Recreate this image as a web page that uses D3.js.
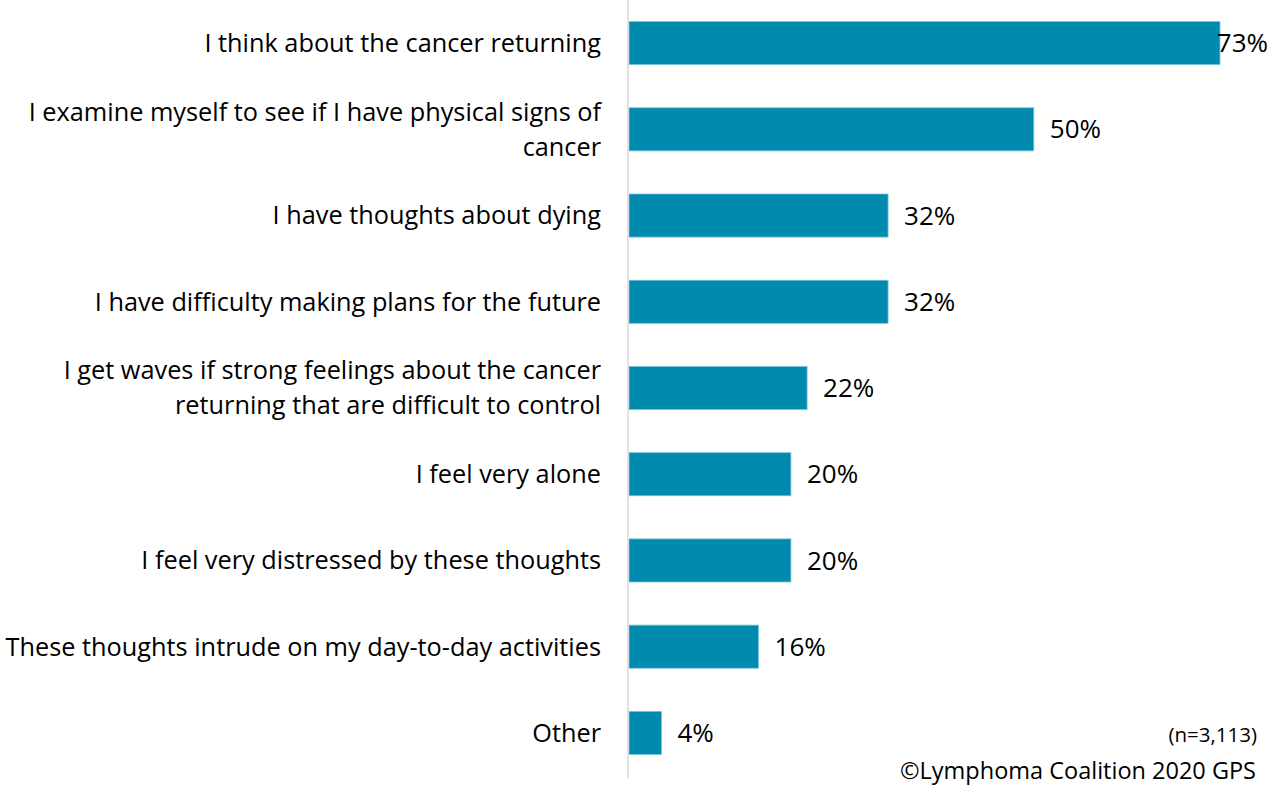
<!DOCTYPE html>
<html><head><meta charset="utf-8">
<script src="https://cdn.jsdelivr.net/npm/d3@7"></script>
<style>body{margin:0;background:#fff}</style>
</head><body>
<svg id="c" width="1270" height="786"></svg>
<script>
const categories = [
  ["I think about the cancer returning"],
  ["I examine myself to see if I have physical signs of", "cancer"],
  ["I have thoughts about dying"],
  ["I have difficulty making plans for the future"],
  ["I get waves if strong feelings about the cancer", "returning that are difficult to control"],
  ["I feel very alone"],
  ["I feel very distressed by these thoughts"],
  ["These thoughts intrude on my day-to-day activities"],
  ["Other"]
];
const values = [73, 50, 32, 32, 22, 20, 20, 16, 4];
const valueLabels = ["73%", "50%", "32%", "32%", "22%", "20%", "20%", "16%", "4%"];
const sampleNote = "(n=3,113)";
const sourceNote = "©Lymphoma Coalition 2020 GPS";

const font = "'Open Sans', sans-serif";
const svg = d3.select("#c");
const x0 = 629, x1 = 1220;
const x = d3.scaleLinear().domain([0, 73]).range([x0, x1]);
const idx = d3.range(values.length);
const y = d3.scaleBand().domain(idx).range([0, 776]).paddingInner(0.5).paddingOuter(0.25);

svg.selectAll("rect.bar").data(idx).join("rect")
  .attr("class", "bar")
  .attr("x", x(0))
  .attr("y", i => y(i))
  .attr("width", i => x(values[i]) - x(0))
  .attr("height", y.bandwidth())
  .attr("fill", "#008aad")
  .attr("stroke", "#7cc6da").attr("stroke-width", 0.8);

svg.append("line").attr("x1", 628).attr("x2", 628).attr("y1", 0).attr("y2", 778)
  .attr("stroke", "#d9d9d9").attr("stroke-width", 1.5);

const fs = 25.3, lh = 35;
const lab = svg.selectAll("text.cat").data(idx).join("text")
  .attr("class", "cat")
  .attr("text-anchor", "end")
  .attr("font-family", font).attr("font-size", fs).attr("fill", "#000");
lab.each(function(i) {
  const lines = categories[i];
  const cy = y(i) + y.bandwidth() / 2;
  const t = d3.select(this);
  lines.forEach((l, k) => {
    t.append("tspan").attr("x", 601)
      .attr("y", cy + (k - (lines.length - 1) / 2) * lh)
      .attr("dy", "0.35em").text(l);
  });
});

svg.selectAll("text.val").data(idx).join("text")
  .attr("class", "val")
  .attr("font-family", font).attr("font-size", 26).attr("fill", "#000")
  .attr("y", i => y(i) + y.bandwidth() / 2).attr("dy", "0.35em")
  .text(i => valueLabels[i])
  .attr("x", function(i) {
    const w = this.getComputedTextLength();
    return Math.min(x(values[i]) + 16, 1268 - w);
  });

svg.append("text").attr("x", 1257).attr("y", 735).attr("dy", "0.35em")
  .attr("text-anchor", "end").attr("font-family", font).attr("font-size", 20.5)
  .text(sampleNote);
svg.append("text").attr("x", 1256).attr("y", 771).attr("dy", "0.35em")
  .attr("text-anchor", "end").attr("font-family", font).attr("font-size", 23.5)
  .text(sourceNote);
</script>
</body></html>
